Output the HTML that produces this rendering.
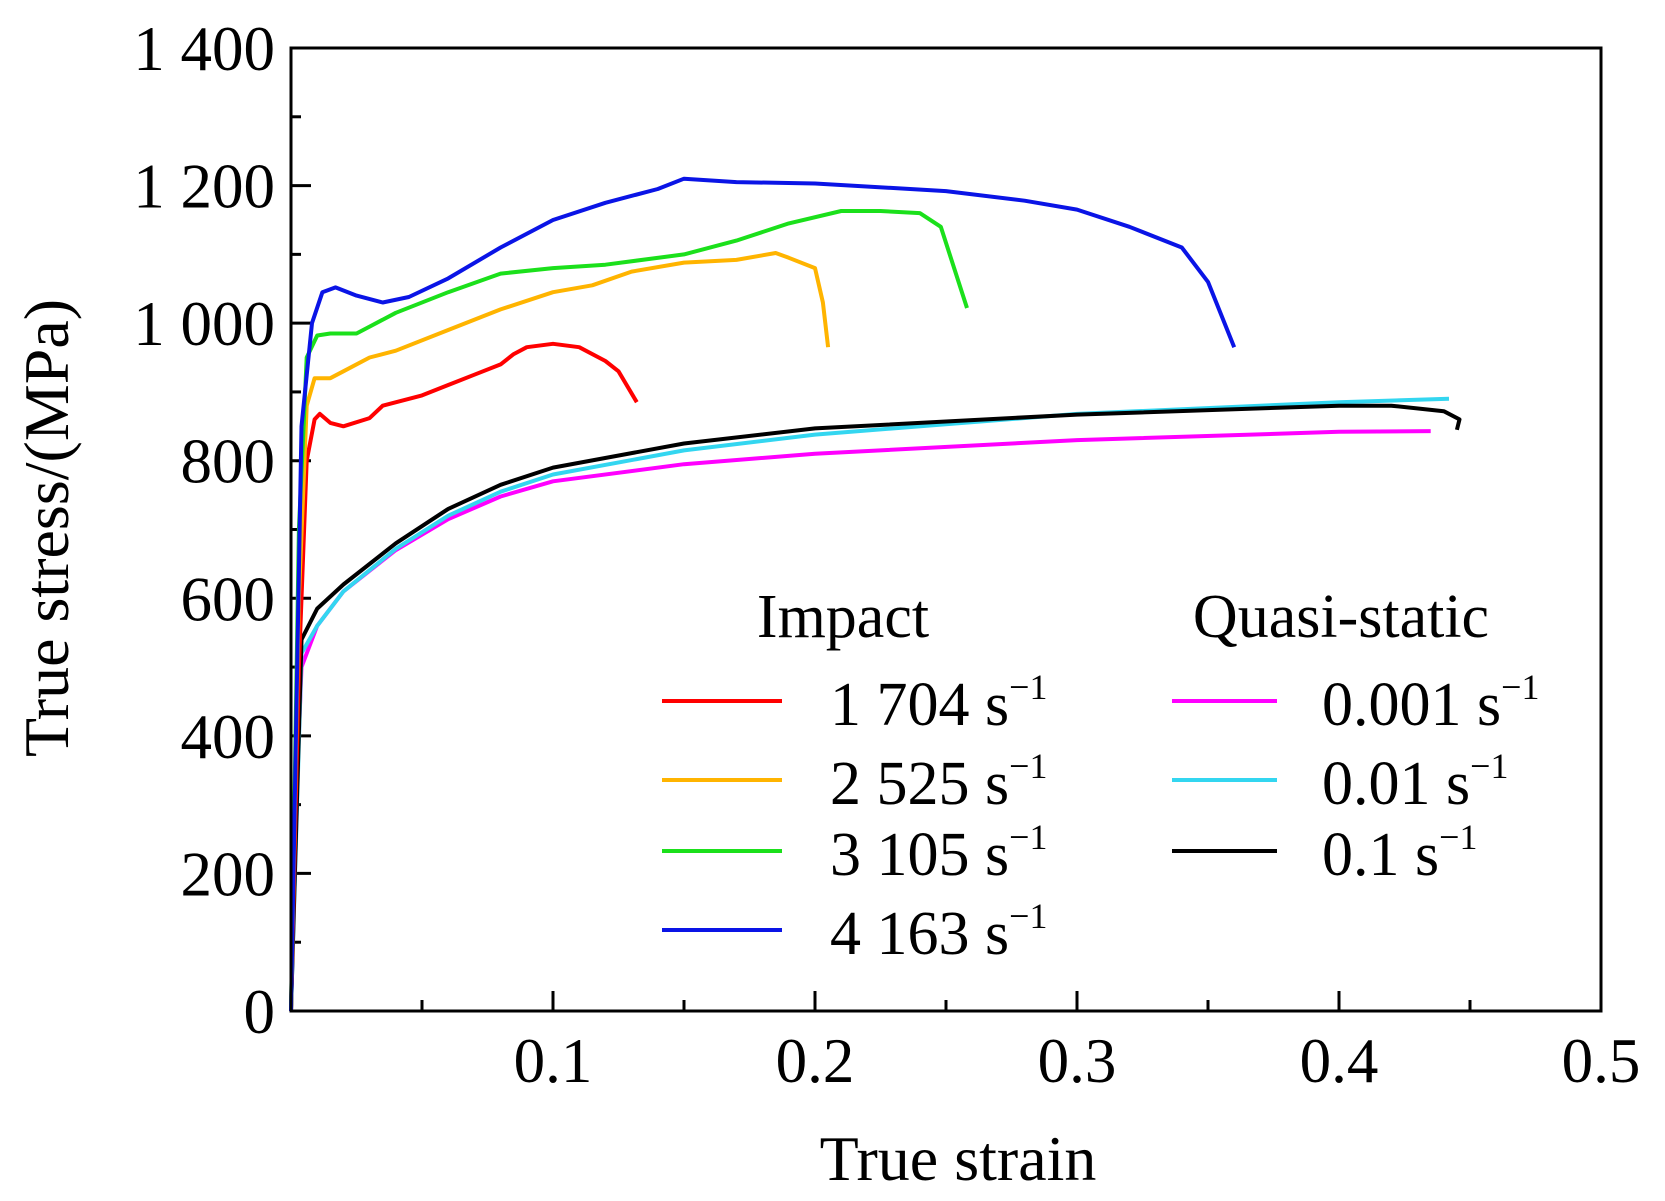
<!DOCTYPE html>
<html><head><meta charset="utf-8"><style>
html,body{margin:0;padding:0;background:#fff}
svg{display:block;font-family:"Liberation Serif",serif}
</style></head><body>
<svg id="chart" width="1665" height="1201" viewBox="0 0 1665 1201" xmlns="http://www.w3.org/2000/svg">
<g id="ticks"></g>
<g id="series" fill="none" stroke-width="4" stroke-linejoin="round"></g>
<rect x="291" y="48" width="1310" height="963" fill="none" stroke="#000" stroke-width="3"/>
<g id="labels" font-size="63"></g>
<text x="958" y="1180" font-size="64" text-anchor="middle">True strain</text>
<text transform="translate(68,528) rotate(-90)" font-size="64" text-anchor="middle">True stress/(MPa)</text>
<g id="legend" font-size="62"></g>
</svg>
<script>
const xTicks=[0.1,0.2,0.3,0.4,0.5];
const xTickLabels=["0.1","0.2","0.3","0.4","0.5"];
const yTicks=[0,200,400,600,800,1000,1200,1400];
const yTickLabels=["0","200","400","600","800","1 000","1 200","1 400"];
const s1704=[[0,0],[0.003,500],[0.006,800],[0.009,860],[0.011,868],[0.015,855],[0.02,850],[0.03,862],[0.035,880],[0.05,895],[0.06,910],[0.07,925],[0.08,940],[0.085,955],[0.09,965],[0.1,970],[0.11,965],[0.12,945],[0.125,930],[0.132,885]];
const s2525=[[0,0],[0.003,600],[0.006,880],[0.009,920],[0.015,920],[0.02,930],[0.03,950],[0.04,960],[0.06,990],[0.08,1020],[0.1,1045],[0.115,1055],[0.13,1075],[0.15,1088],[0.17,1092],[0.185,1102],[0.19,1095],[0.2,1080],[0.203,1030],[0.205,965]];
const s3105=[[0,0],[0.003,700],[0.006,950],[0.01,982],[0.015,985],[0.025,985],[0.03,995],[0.04,1015],[0.06,1045],[0.08,1072],[0.1,1080],[0.12,1085],[0.15,1100],[0.17,1120],[0.19,1145],[0.21,1163],[0.225,1163],[0.24,1160],[0.248,1140],[0.258,1022]];
const s4163=[[0,0],[0.004,850],[0.008,1000],[0.012,1045],[0.017,1052],[0.025,1040],[0.035,1030],[0.045,1038],[0.06,1065],[0.08,1110],[0.1,1150],[0.12,1175],[0.14,1195],[0.15,1210],[0.17,1205],[0.2,1203],[0.25,1192],[0.28,1178],[0.3,1165],[0.32,1140],[0.34,1110],[0.35,1060],[0.36,965]];
const s0001=[[0,0],[0.002,300],[0.004,500],[0.01,560],[0.02,610],[0.04,670],[0.06,715],[0.08,748],[0.1,770],[0.15,795],[0.2,810],[0.3,830],[0.4,842],[0.435,843]];
const s001=[[0,0],[0.004,520],[0.01,560],[0.02,610],[0.04,672],[0.06,720],[0.08,755],[0.1,780],[0.15,815],[0.2,838],[0.3,868],[0.4,885],[0.442,890]];
const s01=[[0,0],[0.004,540],[0.01,585],[0.02,620],[0.04,680],[0.06,730],[0.08,765],[0.1,790],[0.15,825],[0.2,847],[0.3,867],[0.4,880],[0.42,880],[0.44,872],[0.446,860],[0.445,845]];
const NS="http://www.w3.org/2000/svg";
const L=291,R=1601,T=48,B=1011;
const xs=v=>L+v/0.5*(R-L);
const ys=v=>B-v/1400*(B-T);
function mk(tag,attrs,parent){const e=document.createElementNS(NS,tag);for(const k in attrs)e.setAttribute(k,attrs[k]);parent.appendChild(e);return e;}
const ticks=document.getElementById('ticks'),labels=document.getElementById('labels');
for(let i=1;i<=10;i++){const v=i*0.05;const major=i%2===0;
 const t=mk('line',{x1:xs(v),x2:xs(v),y1:B,y2:B-(major?20:11),stroke:'#000','stroke-width':3},ticks);
 
 }
for(let i=1;i<14;i++){const v=i*100;const major=i%2===0;
 const t=mk('line',{x1:L,x2:L+(major?20:10),y1:ys(v),y2:ys(v),stroke:'#000','stroke-width':3},ticks);
 
 }
xTicks.forEach((v,i)=>{const t=mk('text',{x:xs(v),y:1082,'text-anchor':'middle'},labels);t.textContent=xTickLabels[i];
 
 });
yTicks.forEach((v,i)=>{const t=mk('text',{x:275,y:ys(v)+22,'text-anchor':'end'},labels);t.textContent=yTickLabels[i];
 
 });
const series=[[s0001,'#f0f','series-0.001'],[s001,'#33d6f0','series-0.01'],[s01,'#000','series-0.1'],[s1704,'#f00','series-1704'],[s2525,'#ffb400','series-2525'],[s3105,'#1be01b','series-3105'],[s4163,'#0a14e6','series-4163']];
const sg=document.getElementById('series');
series.forEach(([d,c,n])=>{const p=mk('path',{d:d.map((q,i)=>(i?'L':'M')+xs(q[0]).toFixed(1)+' '+ys(q[1]).toFixed(1)).join(' '),stroke:c},sg);
 
 });
const lg=document.getElementById('legend');
const t1=mk('text',{x:843,y:637,'text-anchor':'middle'},lg);t1.textContent='Impact';


const t2=mk('text',{x:1341,y:637,'text-anchor':'middle'},lg);t2.textContent='Quasi-static';


const legItems=[[662,782,830,701,'#f00','1 704'],[662,782,830,780,'#ffb400','2 525'],[662,782,830,851,'#1be01b','3 105'],[662,782,830,930,'#0a14e6','4 163'],[1172,1277,1322,701,'#f0f','0.001'],[1172,1277,1322,780,'#33d6f0','0.01'],[1172,1277,1322,851,'#000','0.1']];
legItems.forEach(([a,b,tx,y,c,lab])=>{
 const g=mk('g',{},lg);
 
 
 mk('line',{x1:a,x2:b,y1:y,y2:y,stroke:c,'stroke-width':4},g);
 const t=mk('text',{x:tx,y:y+24},g);
 t.innerHTML=lab+' s<tspan dy="-26" font-size="36">−1</tspan>';
});
</script>
</body></html>
